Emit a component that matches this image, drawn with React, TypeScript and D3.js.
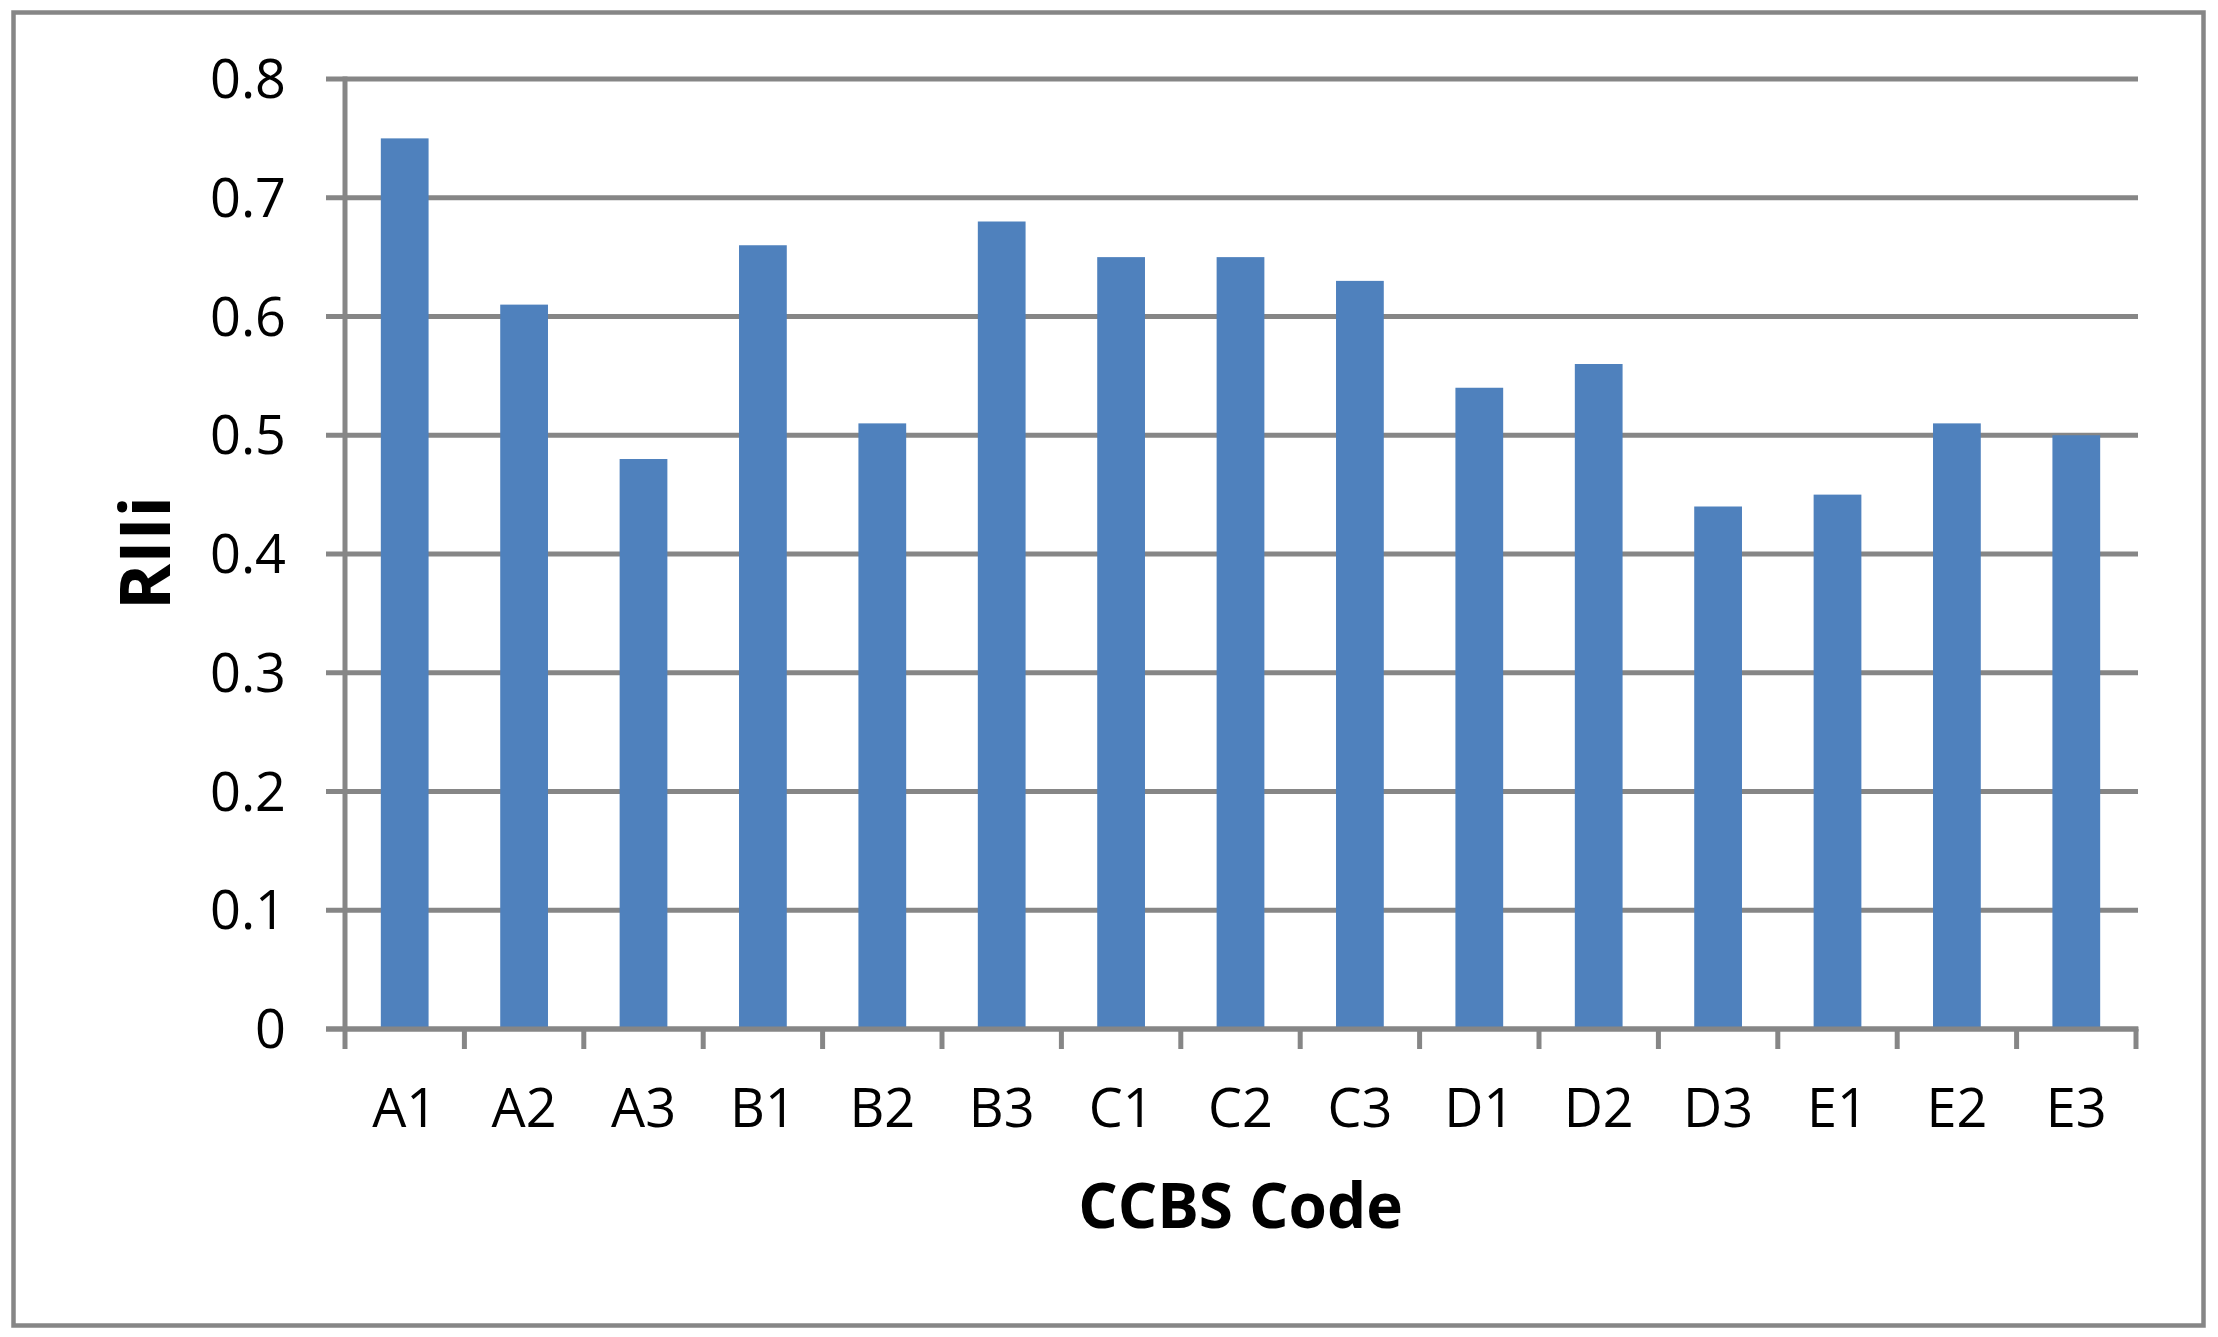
import React from "react";
import * as d3 from "d3";

const categories = ["A1","A2","A3","B1","B2","B3","C1","C2","C3","D1","D2","D3","E1","E2","E3"];
const values = [0.75,0.61,0.48,0.66,0.51,0.68,0.65,0.65,0.63,0.54,0.56,0.44,0.45,0.51,0.50];
const yTicks = [0,0.1,0.2,0.3,0.4,0.5,0.6,0.7,0.8];
const xTitle = "CCBS Code";
const yTitle = "RIIi";

const W = 2218, H = 1337;
const left = 345, right = 2136, top = 79, bottom = 1029;
const grey = "#868686";
const barColor = "#4F81BD";
const font = "'Open Sans', 'Noto Sans', sans-serif";

export default function App() {
  const x = d3.scaleBand<string>().domain(categories).range([left, right]).paddingInner(0.6).paddingOuter(0.3);
  const y = d3.scaleLinear().domain([0, 0.8]).range([bottom, top]);
  const step = x.step();
  const boundaries = d3.range(categories.length + 1).map(i => left + i * step);
  return (
    <svg width={W} height={H} style={{ position: "absolute", left: 0, top: 0, display: "block", background: "#fff" }}>
      <rect x={0} y={0} width={W} height={H} fill="#fff" />
      <rect x={13.5} y={12.5} width={2190} height={1313} fill="none" stroke={grey} strokeWidth={4.5} />
      {yTicks.map(t => (
        <g key={t}>
          <line x1={326} x2={2138} y1={y(t)} y2={y(t)} stroke={grey} strokeWidth={5} />
          <text x={286} y={y(t) + 19} textAnchor="end" fontFamily={font} fontSize={54} fill="#000">{d3.format("")(t)}</text>
        </g>
      ))}
      {categories.map((c, i) => (
        <rect key={c} x={x(c)} y={y(values[i])} width={x.bandwidth()} height={bottom - y(values[i])} fill={barColor} />
      ))}
      <line x1={left} x2={left} y1={top - 2.5} y2={bottom} stroke={grey} strokeWidth={5} />
      <line x1={326} x2={right + 2.5} y1={bottom} y2={bottom} stroke={grey} strokeWidth={5} />
      {boundaries.map((b, i) => (
        <line key={i} x1={b} x2={b} y1={bottom} y2={1049} stroke={grey} strokeWidth={5} />
      ))}
      {categories.map(c => (
        <text key={c} x={(x(c) as number) + x.bandwidth() / 2} y={1127} textAnchor="middle" fontFamily={font} fontSize={54} fill="#000">{c}</text>
      ))}
      <text x={(left + right) / 2} y={1228} textAnchor="middle" fontFamily={font} fontWeight="bold" fontSize={62} fill="#000">{xTitle}</text>
      <text transform={`translate(170, 553) rotate(-90)`} textAnchor="middle" fontFamily={font} fontWeight="bold" fontSize={70} fill="#000">{yTitle}</text>
    </svg>
  );
}
